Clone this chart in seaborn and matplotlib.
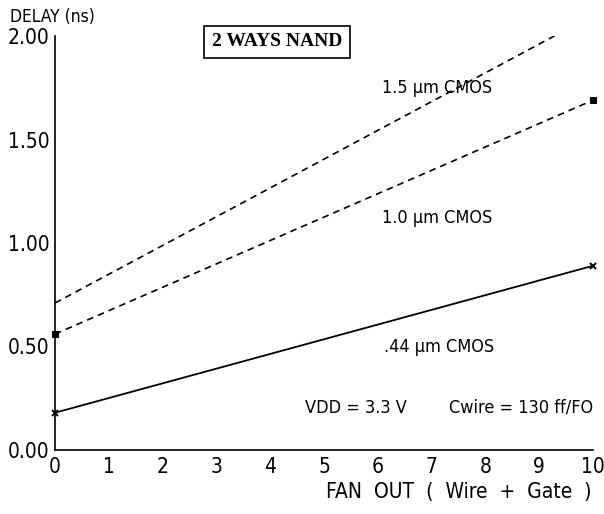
import numpy as np
import pandas as pd
import matplotlib
matplotlib.use("Agg")
import matplotlib.pyplot as plt
import seaborn as sns

# data
fan_out = [0, 10]
delay_150 = [0.71, 2.10]   # 1.5 um, runs off the top of the axes
delay_100 = [0.56, 1.69]   # 1.0 um
delay_044 = [0.18, 0.89]   # .44 um
x_ticks = list(range(0, 11))
y_ticks = [0.0, 0.5, 1.0, 1.5, 2.0]
y_tick_labels = ["0.00", "0.50", "1.00", "1.50", "2.00"]

sns.set_theme(style="white")
plt.rcParams['font.family'] = ['DejaVu Sans']
plt.rcParams['font.stretch'] = 'condensed'
plt.rcParams['text.color'] = 'black'
plt.rcParams['xtick.color'] = 'black'
plt.rcParams['ytick.color'] = 'black'

df = pd.DataFrame({
    'fan_out': fan_out * 3,
    'delay': delay_150 + delay_100 + delay_044,
    'tech': ['1.5'] * 2 + ['1.0'] * 2 + ['.44'] * 2,
})

fig = plt.figure(figsize=(6.04, 5.14), dpi=100)
ax = fig.add_axes([55 / 604, 1 - 450 / 514, (593 - 55) / 604, (450 - 36) / 514])

sns.lineplot(data=df[df.tech == '1.5'], x='fan_out', y='delay', ax=ax,
             color='black', linestyle=(0, (4, 3)), linewidth=1.2)
sns.lineplot(data=df[df.tech == '1.0'], x='fan_out', y='delay', ax=ax,
             color='black', linestyle=(0, (4, 3)), linewidth=1.2,
             marker='s', markersize=4, markeredgecolor='black', clip_on=False)
sns.lineplot(data=df[df.tech == '.44'], x='fan_out', y='delay', ax=ax,
             color='black', linewidth=1.3,
             marker='x', markersize=5, markeredgecolor='black', mew=1.4,
             clip_on=False)

ax.set_xlim(0, 10)
ax.set_ylim(0, 2.0)
ax.set_xticks(x_ticks)
ax.set_xticklabels([str(t) for t in x_ticks], fontsize=15)
ax.set_yticks(y_ticks)
ax.set_yticklabels(y_tick_labels, fontsize=15)
ax.tick_params(axis='x', direction='in', length=9, width=1, pad=5)
ax.tick_params(axis='y', direction='in', length=10, width=1, pad=4)
ax.set_xlabel('')
ax.set_ylabel('')

for side in ['top', 'right']:
    ax.spines[side].set_visible(False)
for side in ['left', 'bottom']:
    ax.spines[side].set_color('black')
    ax.spines[side].set_linewidth(1.2)

# axis titles
fig.text(10 / 604, 1 - 17 / 514, 'DELAY (ns)', fontsize=12.5, ha='left', va='center')
fig.text(591 / 604, 1 - 492 / 514, 'FAN  OUT  (  Wire  +  Gate  )', fontsize=15,
         ha='right', va='center')

# curve labels
ax.text(6.08, 1.75, '1.5 \u00b5m CMOS', fontsize=13, ha='left', va='center')
ax.text(6.08, 1.12, '1.0 \u00b5m CMOS', fontsize=13, ha='left', va='center')
ax.text(6.12, 0.50, '.44 \u00b5m CMOS', fontsize=13, ha='left', va='center')
ax.text(4.65, 0.205, 'VDD = 3.3 V', fontsize=13, ha='left', va='center')
ax.text(10.0, 0.205, 'Cwire = 130 ff/FO', fontsize=13, ha='right', va='center')

# boxed title
fig.text(277 / 604, 1 - 42 / 514, '2 WAYS NAND', fontsize=14, fontweight='bold',
         family='Liberation Serif', stretch='normal', ha='center', va='center',
         bbox=dict(boxstyle='square,pad=0.4', facecolor='white',
                   edgecolor='black', linewidth=1.2))

fig.savefig('out.png', dpi=100)
